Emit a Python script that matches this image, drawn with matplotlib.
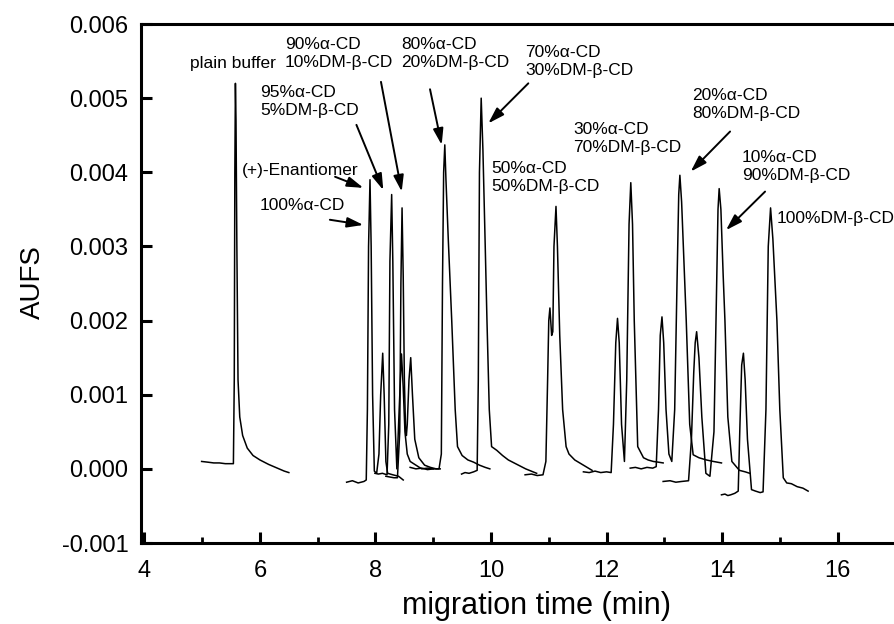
import matplotlib
matplotlib.use("Agg")
import matplotlib.pyplot as plt
from matplotlib.ticker import MultipleLocator, FuncFormatter

plt.rcParams['font.family'] = ['Liberation Sans', 'DejaVu Sans']

# electropherogram traces (time in min, signal in AUFS)
t_plain = [4.99, 5.1, 5.2, 5.3, 5.4, 5.54, 5.555, 5.565, 5.575, 5.585, 5.60, 5.62, 5.65,
           5.70, 5.78, 5.88, 6.0, 6.15, 6.3, 6.42, 6.5]
s_plain = [0.0001, 0.00009, 0.00008, 0.00008, 0.00007, 0.00007, 0.0012, 0.0040, 0.0052,
           0.0047, 0.0030, 0.0012, 0.0007, 0.00045, 0.00028, 0.00018, 0.00012, 0.00006,
           0.00001, -0.00003, -0.00005]

t_a100 = [7.50, 7.6, 7.7, 7.8, 7.84, 7.86, 7.88, 7.905, 7.925, 7.95, 7.98, 8.02, 8.06,
          8.09, 8.125, 8.15, 8.18, 8.21, 8.3, 8.4, 8.48]
s_a100 = [-0.00018, -0.00016, -0.00019, -0.00017, -0.00015, 0.0008, 0.0030, 0.0039,
          0.0030, 0.0010, -0.00003, -0.00006, 0.0002, 0.0010, 0.00156, 0.0010, 0.0001,
          -0.00006, -0.00008, -0.0001, -0.00015]

t_a95 = [7.99, 8.05, 8.12, 8.2, 8.23, 8.25, 8.28, 8.30, 8.33, 8.37, 8.41, 8.45, 8.48,
         8.51, 8.55, 8.6, 8.7, 8.8, 8.9, 9.0]
s_a95 = [-0.00006, -0.00007, -0.00006, -0.00008, 0.0006, 0.0028, 0.0037, 0.0028, 0.0008,
         0.0, 0.0008, 0.00155, 0.0011, 0.0005, 0.0002, 0.0001, 0.00005, 0.0, 0.00001, 0.0]

t_a90 = [8.18, 8.25, 8.32, 8.38, 8.42, 8.44, 8.46, 8.48, 8.50, 8.52, 8.535, 8.55, 8.58,
         8.61, 8.64, 8.68, 8.75, 8.85, 8.95, 9.05, 9.12]
s_a90 = [-0.0001, -0.00011, -0.00012, -0.00012, 0.0005, 0.0025, 0.00352, 0.0026, 0.0012,
         0.00055, 0.00045, 0.0006, 0.0012, 0.0015, 0.0010, 0.0004, 0.00015, 0.00005,
         0.00002, 0.0, 0.0]

t_a80 = [8.6, 8.7, 8.8, 8.9, 9.0, 9.1, 9.14, 9.16, 9.18, 9.20, 9.22, 9.26, 9.32, 9.38,
         9.42, 9.5, 9.6, 9.7, 9.8, 9.9, 9.98]
s_a80 = [0.00002, 0.0, 0.00001, -0.00001, 0.0, 0.0, 0.0002, 0.0025, 0.0040, 0.00437,
         0.0039, 0.0031, 0.0020, 0.0008, 0.0003, 0.00018, 0.00012, 0.00009, 0.00005,
         0.00002, 0.0]

t_a70 = [9.49, 9.55, 9.62, 9.7, 9.76, 9.78, 9.80, 9.83, 9.86, 9.90, 9.93, 9.97, 10.01,
         10.1, 10.2, 10.3, 10.45, 10.6, 10.79]
s_a70 = [-0.00007, -0.00005, -0.00006, -0.00004, -0.00002, 0.0012, 0.0040, 0.0050, 0.0043,
         0.0030, 0.0020, 0.0008, 0.0003, 0.00025, 0.00018, 0.00012, 0.00006, 0.0, -0.00006]

t_a50 = [10.59, 10.7, 10.8, 10.9, 10.95, 10.98, 11.0, 11.02, 11.05, 11.07, 11.09, 11.125,
         11.15, 11.19, 11.24, 11.3, 11.35, 11.45, 11.6, 11.75]
s_a50 = [-0.00008, -0.00007, -0.00009, -0.00008, 0.0001, 0.0012, 0.0020, 0.00217, 0.0018,
         0.00185, 0.0030, 0.00354, 0.0030, 0.0018, 0.0008, 0.0003, 0.0002, 0.00012,
         0.00005, -0.00002]

t_a30 = [11.6, 11.7, 11.8, 11.9, 12.0, 12.08, 12.12, 12.16, 12.19, 12.22, 12.26, 12.31,
         12.35, 12.39, 12.42, 12.45, 12.48, 12.54, 12.64, 12.72, 12.81, 12.9, 12.98]
s_a30 = [-0.00004, -0.00005, -0.00003, -0.00005, -0.00004, -0.00005, 0.0006, 0.0017,
         0.00203, 0.0017, 0.0006, 0.0001, 0.0012, 0.0033, 0.00386, 0.0033, 0.0020, 0.0003,
         0.00015, 0.00012, 0.0001, 0.00009, 0.00008]

t_a20 = [12.41, 12.5, 12.6, 12.7, 12.8, 12.86, 12.9, 12.93, 12.96, 12.99, 13.03, 13.08,
         13.13, 13.18, 13.22, 13.25, 13.27, 13.30, 13.34, 13.38, 13.44, 13.5, 13.6, 13.73,
         13.85, 13.99]
s_a20 = [0.00001, 0.00002, 0.0, 0.00002, 0.00001, 0.00003, 0.0008, 0.0018, 0.00205, 0.0017,
         0.0008, 0.0002, 0.0001, 0.0008, 0.0025, 0.0037, 0.00396, 0.0036, 0.0028, 0.0020,
         0.0006, 0.00019, 0.00015, 0.00012, 0.0001, 0.00008]

t_a10 = [12.98, 13.1, 13.2, 13.3, 13.42, 13.47, 13.51, 13.535, 13.56, 13.6, 13.65, 13.72,
         13.79, 13.86, 13.9, 13.93, 13.95, 13.98, 14.02, 14.05, 14.1, 14.17, 14.3, 14.4,
         14.48]
s_a10 = [-0.00017, -0.00016, -0.00018, -0.00017, -0.00016, 0.0004, 0.0013, 0.0017, 0.00185,
         0.0015, 0.0007, -0.00006, -0.0001, 0.0005, 0.0022, 0.0035, 0.00378, 0.0035,
         0.0026, 0.0020, 0.0007, 0.0001, -0.00002, -0.00004, -0.00006]

t_dm100 = [13.99, 14.05, 14.1, 14.15, 14.22, 14.28, 14.31, 14.34, 14.37, 14.40, 14.44,
           14.51, 14.58, 14.66, 14.71, 14.76, 14.8, 14.84, 14.88, 14.95, 15.0, 15.06,
           15.12, 15.2, 15.3, 15.4, 15.49]
s_dm100 = [-0.00035, -0.00034, -0.00036, -0.00035, -0.00033, -0.0003, 0.0006, 0.0014,
           0.00156, 0.0012, 0.0004, -0.00028, -0.0003, -0.00032, -0.00031, 0.0008, 0.0030,
           0.00352, 0.0031, 0.0020, 0.0008, -0.00012, -0.00019, -0.0002, -0.00024,
           -0.00026, -0.0003]

traces = [(t_plain, s_plain), (t_a100, s_a100), (t_a95, s_a95), (t_a90, s_a90),
          (t_a80, s_a80), (t_a70, s_a70), (t_a50, s_a50), (t_a30, s_a30),
          (t_a20, s_a20), (t_a10, s_a10), (t_dm100, s_dm100)]

# labels: text, text anchor (left, vertical centre), arrow tail, arrow head
labels = [
    ("plain buffer", (4.79, 0.00547), None, None),
    ("(+)-Enantiomer", (5.69, 0.00402), (7.30, 0.00394), (7.79, 0.00379)),
    ("100%α-CD", (6.0, 0.00355), (7.21, 0.00336), (7.79, 0.00329)),
    ("95%α-CD\n5%DM-β-CD", (6.0, 0.00496), (7.67, 0.00464), (8.135, 0.00376)),
    ("90%α-CD\n10%DM-β-CD", (6.43, 0.0056), (8.095, 0.00522), (8.454, 0.00374)),
    ("80%α-CD\n20%DM-β-CD", (8.45, 0.0056), (8.944, 0.00512), (9.146, 0.00437)),
    ("70%α-CD\n30%DM-β-CD", (10.59, 0.0055), (10.646, 0.0052), (9.953, 0.00466)),
    ("50%α-CD\n50%DM-β-CD", (10.01, 0.00393), None, None),
    ("30%α-CD\n70%DM-β-CD", (11.42, 0.00445), None, None),
    ("20%α-CD\n80%DM-β-CD", (13.49, 0.00492), (14.139, 0.00455), (13.458, 0.00401)),
    ("10%α-CD\n90%DM-β-CD", (14.34, 0.00408), (14.745, 0.00374), (14.069, 0.00322)),
    ("100%DM-β-CD", (14.95, 0.00338), None, None),
]

fig = plt.figure(figsize=(8.94, 6.24), dpi=100)
ax = fig.add_axes([0.1577, 0.1298, 0.8412, 0.8317])

for t, s in traces:
    ax.plot(t, s, color='black', lw=1.1)

for text, pos, tail, head in labels:
    ax.text(pos[0], pos[1], text, ha='left', va='center', fontsize=12.5, linespacing=1.25)
    if tail is not None:
        ax.annotate('', xy=head, xytext=tail,
                    arrowprops=dict(arrowstyle='-|>,head_length=0.7,head_width=0.22',
                                    mutation_scale=14, color='black', lw=1.4,
                                    shrinkA=0, shrinkB=0))

ax.set_xlim(3.94, 16.96)
ax.set_ylim(-0.001, 0.006)
ax.xaxis.set_major_locator(MultipleLocator(2))
ax.xaxis.set_minor_locator(MultipleLocator(1))
ax.yaxis.set_major_locator(MultipleLocator(0.001))
ax.yaxis.set_major_formatter(FuncFormatter(lambda v, p: f"{v:.3f}"))

ax.tick_params(axis='both', which='major', direction='in', width=2.2, length=8, labelsize=17)
ax.tick_params(axis='x', which='major', pad=12)
ax.tick_params(axis='y', which='major', pad=9)
ax.tick_params(axis='x', which='minor', direction='in', width=2.0, length=4)
ax.tick_params(top=False, right=False, which='both')

for side in ['left', 'bottom', 'top']:
    ax.spines[side].set_linewidth(2.2)
ax.spines['right'].set_visible(False)

ax.set_xlabel("migration time (min)", fontsize=22, va='center')
ax.xaxis.set_label_coords(0.526, -0.121)
ax.set_ylabel("AUFS", fontsize=20, va='center')
ax.yaxis.set_label_coords(-0.1436, 0.503)

fig.savefig("out.png", dpi=100)
